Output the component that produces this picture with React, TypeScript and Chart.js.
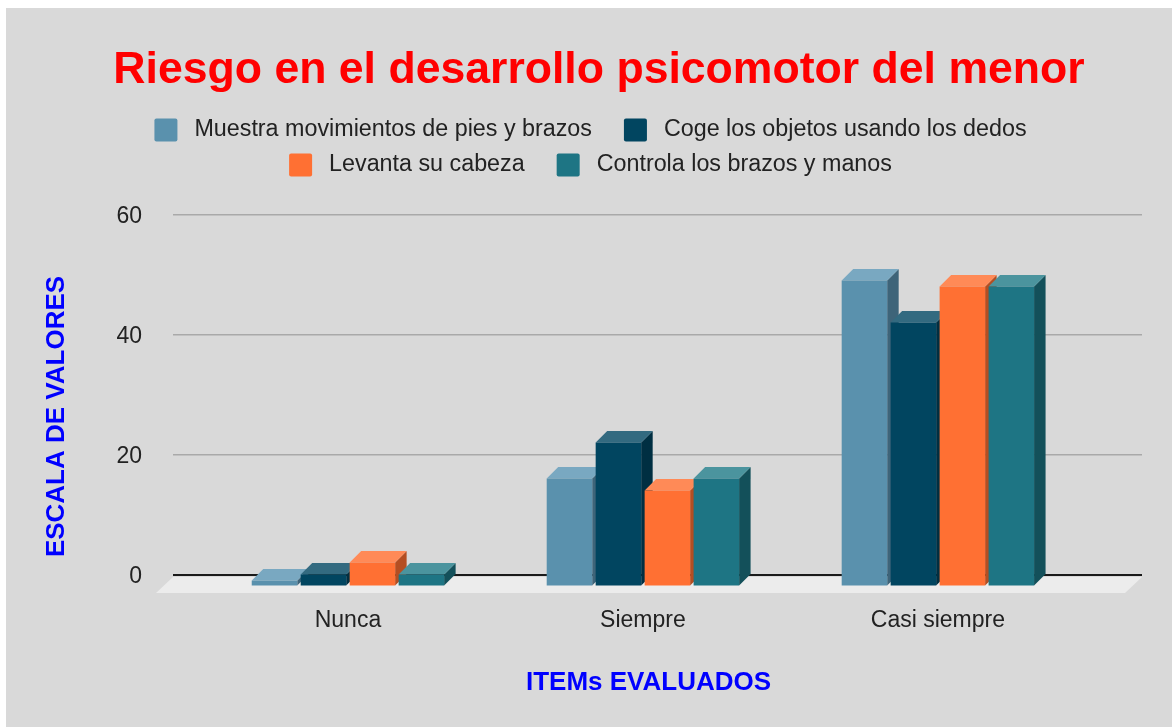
import React, { useEffect, useRef } from 'react';
import { Chart, registerables } from 'chart.js';

Chart.register(...registerables);

// ---------- data ----------
const categories = ['Nunca', 'Siempre', 'Casi siempre'];
const seriesNames = [
  'Muestra movimientos de pies y brazos',
  'Coge los objetos usando los dedos',
  'Levanta su cabeza',
  'Controla los brazos y manos',
];
const muestraValues = [1, 18, 51];
const cogeValues = [2, 24, 44];
const levantaValues = [4, 16, 50];
const controlaValues = [2, 18, 50];
const yTickValues = [0, 20, 40, 60];

const chartTitle = 'Riesgo en el desarrollo psicomotor del menor';
const yAxisTitle = 'ESCALA DE VALORES';
const xAxisTitle = 'ITEMs EVALUADOS';

// ---------- styles ----------
const FONT = "'Liberation Sans', Arial, Helvetica, sans-serif";
const frontColors = ['#5a91ad', '#014560', '#ff7033', '#1e7584'];
const topColors = ['#79a8c1', '#336a80', '#ff8a57', '#4b949e'];
const sideColors = ['#3e6479', '#002f42', '#b44e22', '#13505a'];
const legendRows = [[0, 1], [2, 3]];
const DEPTH = 11.5;

const seriesValues = [muestraValues, cogeValues, levantaValues, controlaValues];

const bars3dPlugin = {
  id: 'bars3d',
  beforeDatasetsDraw(chart: any) {
    const ctx = chart.ctx;
    const y0 = chart.scales.y.getPixelForValue(0);
    const { left, right } = chart.chartArea;
    ctx.save();
    // floor
    ctx.fillStyle = '#ececec';
    ctx.beginPath();
    ctx.moveTo(left, y0 + 2);
    ctx.lineTo(right, y0 + 2);
    ctx.lineTo(right - 17, y0 + 18);
    ctx.lineTo(left - 17, y0 + 18);
    ctx.closePath();
    ctx.fill();
    // side and top faces
    const D = DEPTH;
    for (let c = 0; c < categories.length; c++) {
      for (let d = 0; d < chart.data.datasets.length; d++) {
        const meta = chart.getDatasetMeta(d);
        const bar = meta.data[c];
        if (!bar) continue;
        const { x, y, base, width } = bar.getProps(['x', 'y', 'base', 'width'], true);
        const xl = x - width / 2;
        const xr = x + width / 2;
        ctx.fillStyle = sideColors[d];
        ctx.beginPath();
        ctx.moveTo(xr - D, y + D);
        ctx.lineTo(xr, y);
        ctx.lineTo(xr, base);
        ctx.lineTo(xr - D, base + D);
        ctx.closePath();
        ctx.fill();
        ctx.fillStyle = topColors[d];
        ctx.beginPath();
        ctx.moveTo(xl - D, y + D);
        ctx.lineTo(xr - D, y + D);
        ctx.lineTo(xr, y);
        ctx.lineTo(xl, y);
        ctx.closePath();
        ctx.fill();
      }
    }
    ctx.restore();
    ctx.save();
    ctx.translate(-D, D);
  },
  afterDatasetsDraw(chart: any) {
    chart.ctx.restore();
  },
};

const legendPlugin = {
  id: 'customLegend',
  afterDraw(chart: any) {
    const ctx = chart.ctx;
    const rowY = [122, 157];
    const box = 23;
    const gap = 17;
    const itemGap = 32;
    ctx.save();
    ctx.font = `23.3px ${FONT}`;
    ctx.textBaseline = 'middle';
    ctx.textAlign = 'left';
    const cx = chart.width / 2 + 1.5;
    legendRows.forEach((row, r) => {
      const cy = rowY[r];
      const widths = row.map((i) => box + gap + ctx.measureText(seriesNames[i]).width);
      const total = widths.reduce((a, b) => a + b, 0) + itemGap * (row.length - 1);
      let x = cx - total / 2;
      row.forEach((i, k) => {
        ctx.fillStyle = frontColors[i];
        ctx.beginPath();
        if (ctx.roundRect) ctx.roundRect(x, cy - box / 2, box, box, 2);
        else ctx.rect(x, cy - box / 2, box, box);
        ctx.fill();
        ctx.fillStyle = '#222222';
        ctx.fillText(seriesNames[i], x + box + gap, cy);
        x += widths[k] + itemGap;
      });
    });
    ctx.restore();
  },
};

const axisTitlesPlugin = {
  id: 'axisTitles',
  afterDraw(chart: any) {
    const ctx = chart.ctx;
    const { left, right, top, bottom } = chart.chartArea;
    ctx.save();
    ctx.fillStyle = '#0000ff';
    ctx.font = `bold 26px ${FONT}`;
    ctx.textAlign = 'center';
    ctx.textBaseline = 'middle';
    ctx.fillText(xAxisTitle, (left + right) / 2 - 9, bottom + 108);
    ctx.translate(left - 116, (top + bottom) / 2 + 21.5);
    ctx.rotate(-Math.PI / 2);
    ctx.fillText(yAxisTitle, 0, 0);
    ctx.restore();
  },
};

export default function App() {
  const canvasRef = useRef<HTMLCanvasElement | null>(null);

  useEffect(() => {
    if (!canvasRef.current) return;
    const tickFont = { family: FONT, size: 23 };
    const chart = new Chart(canvasRef.current, {
      type: 'bar',
      data: {
        datasets: seriesValues.map((vals, d) => ({
          label: seriesNames[d],
          data: vals.map((v, i) => ({ x: i, y: v })),
          backgroundColor: frontColors[d],
          borderWidth: 0,
          barPercentage: 0.929,
          categoryPercentage: 0.664,
        })),
      },
      options: {
        responsive: false,
        animation: false,
        events: [],
        layout: { padding: { left: 50, right: 30, top: 0, bottom: 0 } },
        plugins: {
          legend: { display: false },
          tooltip: { enabled: false },
          title: {
            display: true,
            text: chartTitle,
            color: '#ff0000',
            font: { family: FONT, size: 44.6, weight: 'bold', lineHeight: 1.2 },
            padding: { top: 36, bottom: 117.5 },
          },
        },
        scales: {
          x: {
            type: 'linear',
            offset: false,
            min: -0.632,
            max: 2.653,
            grid: { display: false, drawTicks: false, offset: false },
            border: { display: false },
            afterBuildTicks: (s: any) => {
              s.ticks = categories.map((_, i) => ({ value: i }));
            },
            afterFit: (s: any) => {
              s.height = 152;
            },
            ticks: {
              callback: (v: any) => categories[v] ?? '',
              labelOffset: -DEPTH,
              padding: 32,
              font: tickFont,
              color: '#222222',
              maxRotation: 0,
              autoSkip: false,
            },
          },
          y: {
            min: 0,
            max: 60,
            afterBuildTicks: (s: any) => {
              s.ticks = yTickValues.map((v) => ({ value: v }));
            },
            afterFit: (s: any) => {
              s.width = 117;
            },
            grid: {
              drawTicks: false,
              color: (c: any) => (c.tick && c.tick.value === 0 ? '#1a1a1a' : '#a9a9a9'),
              lineWidth: (c: any) => (c.tick && c.tick.value === 0 ? 2 : 1.5),
            },
            border: { display: false },
            ticks: {
              padding: 31,
              labelOffset: 2,
              font: tickFont,
              color: '#222222',
            },
          },
        },
      },
      plugins: [bars3dPlugin, legendPlugin, axisTitlesPlugin],
    } as any);
    return () => chart.destroy();
  }, []);

  return (
    <div
      style={{
        position: 'absolute',
        left: 6,
        top: 8,
        width: 1166,
        height: 719,
        background: '#d9d9d9',
      }}
    >
      <canvas ref={canvasRef} width={1166} height={719} style={{ display: 'block' }} />
    </div>
  );
}
